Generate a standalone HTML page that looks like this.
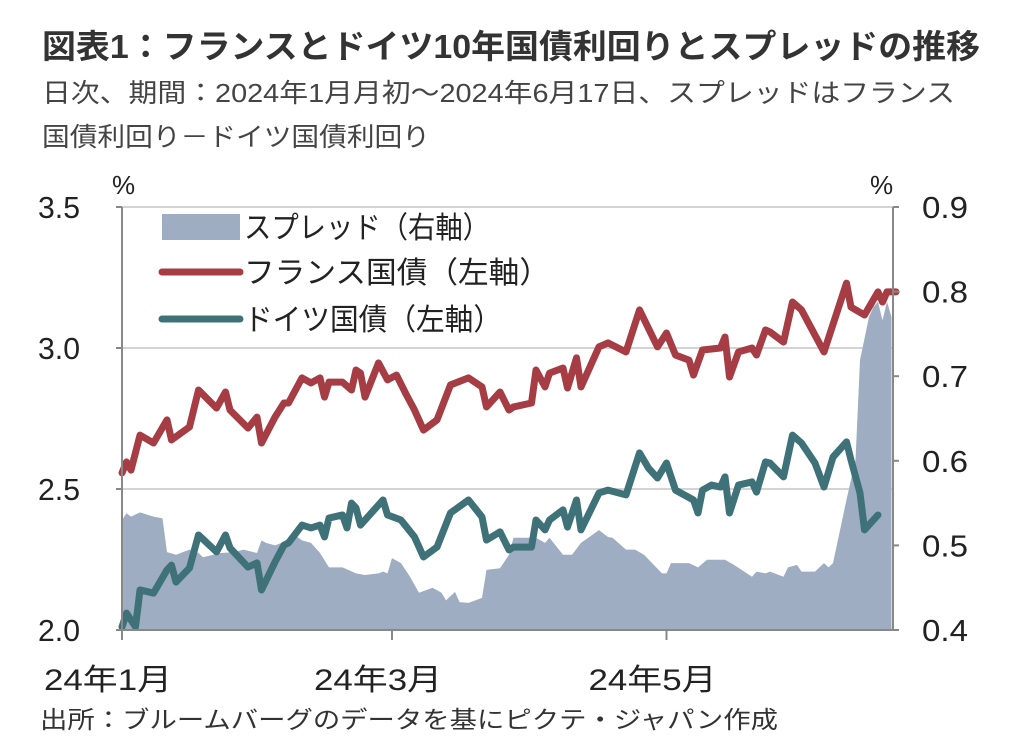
<!DOCTYPE html>
<html><head><meta charset="utf-8"><style>
html,body{margin:0;padding:0;background:#fff}
svg{display:block}
text{font-family:"Liberation Sans","Noto Sans CJK JP",sans-serif}
</style></head><body>
<svg id="chart" width="1012" height="743" viewBox="0 0 1012 743">
<text x="42" y="58" font-size="33" font-weight="bold" fill="#333" textLength="938" lengthAdjust="spacingAndGlyphs">図表1：フランスとドイツ10年国債利回りとスプレッドの推移</text>
<text x="42" y="102" font-size="26" fill="#444" textLength="913" lengthAdjust="spacingAndGlyphs">日次、期間：2024年1月月初～2024年6月17日、スプレッドはフランス</text>
<text x="42" y="146" font-size="26" fill="#444" textLength="388" lengthAdjust="spacingAndGlyphs">国債利回り－ドイツ国債利回り</text>
<g id="grid"></g>
<g id="marks"></g>
<g id="axes"></g>
<g>
<rect x="162" y="214" width="78" height="26" fill="#9eadc1"/>
<text x="244" y="238" font-size="30" fill="#222" textLength="246" lengthAdjust="spacingAndGlyphs">スプレッド（右軸）</text>
<line x1="162" y1="272" x2="240" y2="272" stroke="#a63d45" stroke-width="7" stroke-linecap="round"/>
<text x="244" y="283" font-size="30" fill="#222" textLength="306" lengthAdjust="spacingAndGlyphs">フランス国債（左軸）</text>
<line x1="162" y1="319" x2="240" y2="319" stroke="#3f7278" stroke-width="7" stroke-linecap="round"/>
<text x="244" y="330" font-size="30" fill="#222" textLength="258" lengthAdjust="spacingAndGlyphs">ドイツ国債（左軸）</text>
</g>
<text x="40" y="728" font-size="24" fill="#333" textLength="738" lengthAdjust="spacingAndGlyphs">出所：ブルームバーグのデータを基にピクテ・ジャパン作成</text>
</svg>
<script>
const frDays=[0,1,2,4,7,10,11,15,17,21,23,24,28,30,31,34,36,37,40,42,44,45,46,49,51,52,53,54,57,59,61,63,65,67,70,73,77,80,81,84,86,87,91,92,94,95,98,99,101,102,106,108,112,115,119,121,123,126,127,129,133,134,135,137,140,141,143,144,147,149,151,156,161,162,165,168,169,170,172];
const frYield=[2.557,2.596,2.567,2.691,2.663,2.745,2.674,2.720,2.851,2.787,2.844,2.780,2.716,2.755,2.663,2.755,2.805,2.805,2.894,2.876,2.894,2.826,2.879,2.879,2.851,2.922,2.911,2.826,2.947,2.887,2.904,2.840,2.780,2.709,2.745,2.869,2.894,2.862,2.791,2.844,2.780,2.791,2.805,2.922,2.862,2.911,2.929,2.858,2.965,2.862,3.004,3.018,2.986,3.135,3.004,3.053,2.975,2.957,2.904,2.993,3.000,3.039,2.897,2.986,3.000,2.975,3.064,3.057,3.021,3.163,3.135,2.986,3.230,3.145,3.117,3.199,3.163,3.199,3.199];
const deDays=[0,1,3,4,7,10,11,12,15,17,21,23,24,28,30,31,34,36,37,40,42,44,45,46,49,50,51,52,53,58,59,62,65,67,70,73,77,80,81,84,86,87,91,92,94,95,98,99,101,102,106,108,112,115,117,119,121,123,127,128,129,131,133,134,135,137,140,141,143,144,147,149,151,154,156,158,161,162,164,165,168];
const deYield=[2.011,2.060,2.011,2.142,2.131,2.213,2.230,2.170,2.220,2.337,2.277,2.337,2.291,2.223,2.238,2.142,2.241,2.301,2.309,2.372,2.362,2.372,2.330,2.397,2.408,2.362,2.450,2.433,2.372,2.461,2.408,2.390,2.330,2.259,2.294,2.415,2.461,2.401,2.319,2.348,2.284,2.294,2.294,2.390,2.355,2.390,2.426,2.365,2.461,2.355,2.486,2.496,2.479,2.628,2.574,2.539,2.592,2.496,2.461,2.415,2.496,2.514,2.507,2.543,2.415,2.514,2.525,2.489,2.596,2.592,2.543,2.691,2.663,2.592,2.507,2.613,2.667,2.603,2.486,2.355,2.408];
const spDays=[0,1,2,4,7,9,10,12,15,17,18,22,25,27,30,31,32,34,36,39,40,42,44,46,49,52,54,57,58,59,60,62,64,66,69,71,72,74,75,77,80,81,84,86,87,92,94,95,98,100,102,106,108,109,112,114,116,120,121,122,126,128,130,134,136,140,141,143,144,147,148,150,151,154,156,157,158,161,163,164,166,167,168,169,170,171];
const spValue=[0.530,0.538,0.534,0.539,0.534,0.532,0.492,0.489,0.495,0.491,0.486,0.491,0.492,0.495,0.491,0.506,0.503,0.500,0.504,0.510,0.506,0.503,0.491,0.474,0.474,0.467,0.465,0.467,0.469,0.467,0.485,0.479,0.463,0.444,0.450,0.444,0.435,0.445,0.433,0.432,0.438,0.471,0.473,0.489,0.509,0.509,0.503,0.509,0.489,0.489,0.503,0.518,0.510,0.509,0.495,0.495,0.489,0.467,0.467,0.479,0.479,0.474,0.483,0.483,0.477,0.463,0.469,0.467,0.469,0.463,0.474,0.477,0.469,0.469,0.479,0.474,0.479,0.554,0.601,0.719,0.770,0.782,0.788,0.766,0.788,0.770];
const leftTicks=[2.0,2.5,3.0,3.5];
const rightTicks=[0.4,0.5,0.6,0.7,0.8,0.9];
const xTickDays=[0,60,121];
const xTickLabels=["24年1月","24年3月","24年5月"];

const X0=122,X1=893,Y0=630,Y1=207;
const xs=d=>X0+d*4.5;
const yL=v=>Y0-(v-2.0)/1.5*(Y0-Y1);
const yR=v=>Y0-(v-0.4)/0.5*(Y0-Y1);
const NS="http://www.w3.org/2000/svg";
function mk(tag,parent,attrs){const e=document.createElementNS(NS,tag);for(const k in attrs)e.setAttribute(k,attrs[k]);parent.appendChild(e);return e;}
const grid=document.getElementById('grid'),marks=document.getElementById('marks'),axes=document.getElementById('axes');

leftTicks.forEach((t,i)=>{
  if(i>0){const g=mk('line',grid,{x1:X0,x2:X1,y1:yL(t),y2:yL(t),stroke:'#d4d4d4','stroke-width':2});
  
  }
  const tk=mk('line',axes,{x1:X0-6,x2:X0,y1:yL(t),y2:yL(t),stroke:'#888','stroke-width':2});
  
  
  const lb=mk('text',axes,{x:80,y:yL(t)+11,'font-size':31,'text-anchor':'end',fill:'#222',textLength:42,lengthAdjust:'spacingAndGlyphs'});
  lb.textContent=t.toFixed(1);
  
  
});
rightTicks.forEach(t=>{
  const tk=mk('line',axes,{x1:X1,x2:X1+6,y1:yR(t),y2:yR(t),stroke:'#888','stroke-width':2});
  
  
  const lb=mk('text',axes,{x:922,y:yR(t)+11,'font-size':31,fill:'#222',textLength:46,lengthAdjust:'spacingAndGlyphs'});
  lb.textContent=t.toFixed(1);
  
  
});

let d='M'+xs(spDays[0])+','+Y0;
spDays.forEach((dd,i)=>{d+=' L'+xs(dd)+','+yR(spValue[i]);});
d+=' L'+xs(spDays[spDays.length-1])+','+Y0+' Z';
const area=mk('path',marks,{d:d,fill:'#9eadc1'});



function line(days,vals){return days.map((dd,i)=>(i?'L':'M')+xs(dd)+','+yL(vals[i])).join(' ');}
const fr=mk('path',marks,{d:line(frDays,frYield),fill:'none',stroke:'#a63d45','stroke-width':7,'stroke-linejoin':'round','stroke-linecap':'round'});


const de=mk('path',marks,{d:line(deDays,deYield),fill:'none',stroke:'#3f7278','stroke-width':7,'stroke-linejoin':'round','stroke-linecap':'round'});



const la=mk('line',axes,{x1:X0,x2:X0,y1:Y1,y2:Y0+10,stroke:'#888','stroke-width':2});


const ra=mk('line',axes,{x1:X1,x2:X1,y1:Y1,y2:Y0,stroke:'#888','stroke-width':2});


const ba=mk('line',axes,{x1:X0,x2:X1,y1:Y0,y2:Y0,stroke:'#888','stroke-width':2});


xTickDays.forEach((dd,i)=>{
  const tk=mk('line',axes,{x1:xs(dd),x2:xs(dd),y1:Y0,y2:Y0+10,stroke:'#888','stroke-width':2});
  
  
  const lb=mk('text',axes,{x:xs(dd)-14,y:690,'font-size':30,'text-anchor':'middle',fill:'#222',textLength:128,lengthAdjust:'spacingAndGlyphs'});
  lb.textContent=xTickLabels[i];
  
  
});
const pl=mk('text',axes,{x:112,y:194,'font-size':26,fill:'#222'});
pl.textContent='%';


const pr=mk('text',axes,{x:870,y:194,'font-size':26,fill:'#222'});
pr.textContent='%';


</script>
</body></html>
